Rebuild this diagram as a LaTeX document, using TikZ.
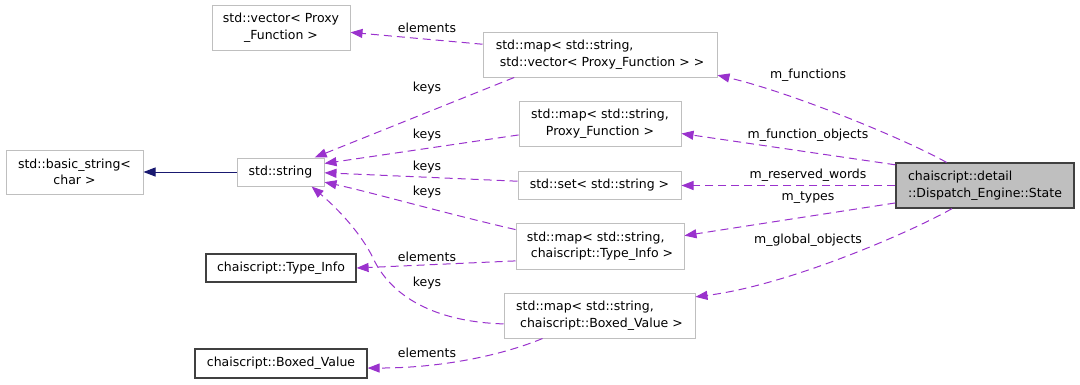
\documentclass[tikz,border=0pt]{standalone}
\usepackage{fontspec}
\setmainfont{DejaVu Sans}
\usetikzlibrary{arrows.meta}
\definecolor{usecol}{HTML}{9A32CD}
\definecolor{inhcol}{HTML}{191970}
\definecolor{boxgrey}{HTML}{BFBFBF}
\definecolor{darkedge}{HTML}{404040}
\begin{document}
\begin{tikzpicture}[x=1pt,y=-1pt,
  font=\fontsize{12.5}{16.5}\selectfont,
  cls/.style={draw=boxgrey, fill=white, line width=1pt, inner sep=0pt},
  doccls/.style={draw=darkedge, fill=white, line width=1.2pt, inner sep=0pt},
  usage/.style={draw=usecol, line width=1pt, dash pattern=on 8pt off 5pt,
    -{Triangle[length=12pt,width=9pt,fill=usecol]}},
  inherit/.style={draw=inhcol, line width=1pt,
    -{Triangle[length=12pt,width=9pt,fill=inhcol]}},
  lbl/.style={inner sep=0pt, text=black}]
\useasboundingbox (0,0) rectangle (1080,384);

% classes
\node[cls, minimum width=138pt, minimum height=45pt, align=center] (vec) at (281,27.5)
  {std::vector< Proxy\\\_Function >};
\node[cls, minimum width=137pt, minimum height=44pt, align=center] (bstr) at (74.5,172)
  {std::basic\_string<\\char >};
\node[cls, minimum width=87pt, minimum height=28pt] (str) at (280.5,172) {std::string};
\node[doccls, minimum width=150pt, minimum height=28pt] (ti) at (281,268) {chaiscript::Type\_Info};
\node[doccls, minimum width=172pt, minimum height=29pt] (bv) at (281,363.5) {chaiscript::Boxed\_Value};

\node[cls, minimum width=234pt, minimum height=45pt, align=left] (mvec) at (600,54.5)
  {std::map< std::string,\\\hspace*{0.32em}std::vector< Proxy\_Function > >};
\node[cls, minimum width=162pt, minimum height=45pt, align=center] (mpf) at (600,123.5)
  {std::map< std::string,\\Proxy\_Function >};
\node[cls, minimum width=163pt, minimum height=28pt] (sset) at (599.5,185.5) {std::set< std::string >};
\node[cls, minimum width=168pt, minimum height=46pt, align=left] (mti) at (600,246)
  {std::map< std::string,\\\hspace*{0.32em}chaiscript::Type\_Info >};
\node[cls, minimum width=191pt, minimum height=45pt, align=left] (mbv) at (599.5,315.5)
  {std::map< std::string,\\\hspace*{0.32em}chaiscript::Boxed\_Value >};

\node[doccls, fill=boxgrey, minimum width=178pt, minimum height=45pt, align=left] (state) at (985,185.5)
  {chaiscript::detail\\::Dispatch\_Engine::State};

% inheritance
\draw[inherit] (str.west) -- (bstr.east);

% container members
\draw[usage] (mvec.175) -- (vec.-4.5);
\draw[usage] (mvec.195.7) -- (str.23.3);
\draw[usage] (mpf.188.8) -- (str.11.4);
\draw[usage] (sset.177.5) -- (str.-1.3);
\draw[usage] (mti.169.2) .. controls (440,212) and (370,192) .. (str.-13.9);
\draw[usage] (mti.190.1) -- (ti.-0.8);
\draw[usage] (mbv.185.7) .. controls (440,322) and (395,300) .. (375,262)
  .. controls (365,240) and (345,215) .. (str.-25.5);
\draw[usage] (mbv.202.4) .. controls (500,356) and (440,368) .. (bv.-3);

% state members
\draw[usage] (state.149.4) .. controls (905,139) and (790,92) .. (mvec.-10.4);
\draw[usage] (state.167.6) -- (mpf.-7.4);
\draw[usage] (state.180) -- (sset.0);
\draw[usage] (state.191.1) -- (mti.7.5);
\draw[usage] (state.215.1) .. controls (915,230) and (790,285) .. (mbv.11.5);

% edge labels
\node[lbl] (l1) at (427,28) {elements};
\node[lbl] (l2) at (427,88) {keys};
\node[lbl] (l3) at (427,135) {keys};
\node[lbl] (l4) at (427,167) {keys};
\node[lbl] (l5) at (427,192) {keys};
\node[lbl] (l6) at (427,257) {elements};
\node[lbl] (l7) at (427,283) {keys};
\node[lbl] (l8) at (427,353) {elements};
\node[lbl] (l9) at (808,75) {m\_functions};
\node[lbl] (l10) at (808,135) {m\_function\_objects};
\node[lbl] (l11) at (808,175) {m\_reserved\_words};
\node[lbl] (l12) at (808,198) {m\_types};
\node[lbl] (l13) at (808,240) {m\_global\_objects};
\end{tikzpicture}
\end{document}
